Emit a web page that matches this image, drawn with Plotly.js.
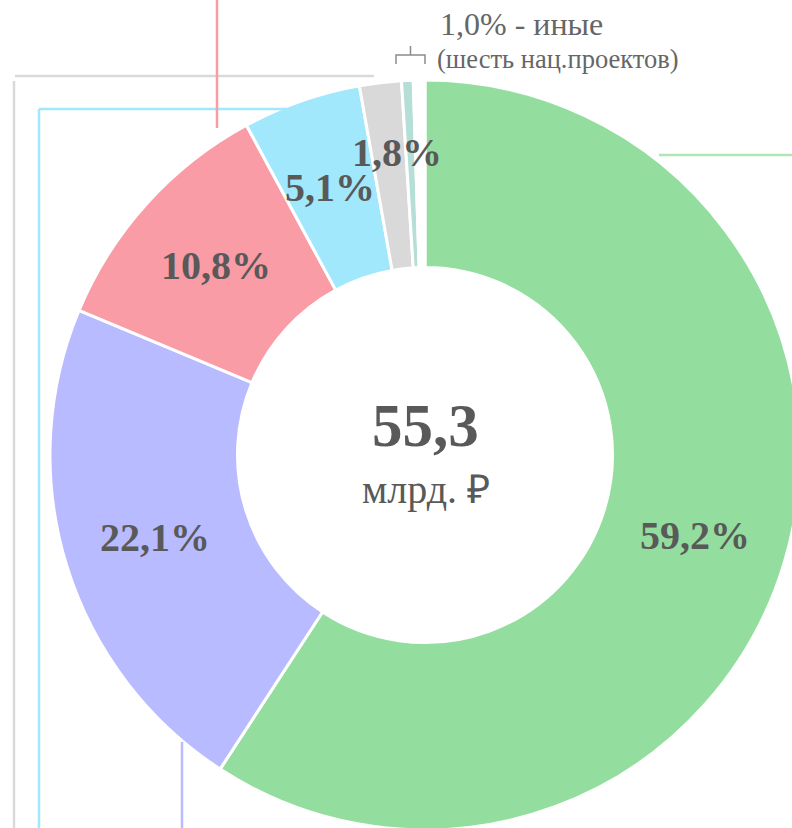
<!DOCTYPE html>
<html>
<head>
<meta charset="utf-8">
<script src="https://cdn.plot.ly/plotly-3.0.1.min.js"></script>
<style>
  html, body { margin: 0; padding: 0; overflow: hidden; background: #fff; }
  #plot { width: 850px; height: 910px; }
</style>
</head>
<body>
<div id="plot"></div>
<script>
// shares of the total, %
var mainShares = [59.2, 22.1, 10.8, 5.1, 1.8];
var mainColors = ['#93de9f', '#b8bbff', '#fa9ca6', '#a2e8fc', '#d9d9d9'];
// "иные" - six national projects, 1,0% together
var otherShares = [0.5, 0.1, 0.1, 0.1, 0.1, 0.1];
var otherColor = '#b5ded6';
var total = '55,3';
var unit = 'млрд. ₽';
var otherTitle = '1,0% - иные';
var otherNote = '(шесть нац.проектов)';

var W = 850, H = 910;
var cx = 425, cy = 455, R = 375;
var fontName = 'Liberation Serif';

function px(x) { return x / W; }
function py(y) { return 1 - y / H; }
function fmt(v) { return v.toFixed(1).replace('.', ',') + '%'; }

function makePlot() {
  var values = mainShares.concat(otherShares);
  var colors = mainColors.concat(otherShares.map(function () { return otherColor; }));

  var trace1 = {
    type: 'pie',
    values: values,
    labels: values.map(function (v, i) { return 'p' + i; }),
    sort: false,
    direction: 'clockwise',
    rotation: 0,
    hole: 0.5,
    textinfo: 'none',
    hoverinfo: 'none',
    showlegend: false,
    marker: {
      colors: colors,
      line: { color: '#ffffff', width: 3 }
    },
    domain: {
      x: [px(cx - R), px(cx + R)],
      y: [py(cy + R), py(cy - R)]
    }
  };

  // slice labels placed at the middle angle of each slice
  var nudge = [[0, 0], [0, 0], [0, 0], [-2, -1], [6, -23]];
  var annotations = [];
  var sum = 0;
  var all = 0;
  values.forEach(function (v) { all += v; });
  mainShares.forEach(function (v, i) {
    var mid = (sum + v / 2) / all * 2 * Math.PI;
    sum += v;
    var r = R * 0.752;
    var x = cx + r * Math.sin(mid) + nudge[i][0];
    var y = cy - r * Math.cos(mid) + nudge[i][1];
    annotations.push({
      xref: 'paper', yref: 'paper',
      x: px(x), y: py(y),
      text: '<b>' + fmt(v) + '</b>',
      showarrow: false,
      xanchor: 'center', yanchor: 'middle',
      font: { family: fontName, size: 40, color: '#595959' }
    });
  });

  annotations.push({
    xref: 'paper', yref: 'paper', x: px(cx), y: py(425),
    text: '<b>' + total + '</b>', showarrow: false,
    xanchor: 'center', yanchor: 'middle',
    font: { family: fontName, size: 61, color: '#595959' }
  });
  annotations.push({
    xref: 'paper', yref: 'paper', x: px(cx + 1), y: py(489),
    text: unit, showarrow: false,
    xanchor: 'center', yanchor: 'middle',
    font: { family: fontName, size: 40, color: '#595959' }
  });
  annotations.push({
    xref: 'paper', yref: 'paper', x: px(438), y: py(24),
    text: otherTitle, showarrow: false,
    xanchor: 'left', yanchor: 'middle',
    font: { family: fontName, size: 32, color: '#666666' }
  });
  annotations.push({
    xref: 'paper', yref: 'paper', x: px(435), y: py(59),
    text: otherNote, showarrow: false,
    xanchor: 'left', yanchor: 'middle',
    font: { family: fontName, size: 26.5, color: '#666666' }
  });

  function seg(x0, y0, x1, y1, color) {
    return {
      type: 'line', xref: 'paper', yref: 'paper',
      x0: px(x0), y0: py(y0), x1: px(x1), y1: py(y1),
      line: { color: color, width: 2.5 }
    };
  }

  var bracket = 'M' + px(396) + ',' + py(64) + ' L' + px(396) + ',' + py(55) +
    ' L' + px(425) + ',' + py(55) + ' L' + px(425) + ',' + py(64) +
    ' M' + px(410.5) + ',' + py(55) + ' L' + px(410.5) + ',' + py(46);

  var shapes = [
    seg(374, 76, 15, 76, '#d9d9d9'),
    seg(14, 81, 14, 900, '#d9d9d9'),
    seg(287, 109, 39, 109, '#a2e8fc'),
    seg(39, 109, 39, 900, '#a2e8fc'),
    seg(217, 0, 217, 128, '#fa9ca6'),
    seg(182, 742, 182, 900, '#b8bbff'),
    seg(659, 155, 850, 155, '#aee6b6'),
    {
      type: 'path', xref: 'paper', yref: 'paper', path: bracket,
      line: { color: '#8c8c8c', width: 1.5 }
    }
  ];

  var layout = {
    width: W,
    height: H,
    margin: { l: 0, r: 0, t: 0, b: 0 },
    paper_bgcolor: '#ffffff',
    font: { family: fontName, color: '#595959' },
    showlegend: false,
    annotations: annotations,
    shapes: shapes
  };

  Plotly.newPlot('plot', [trace1], layout, { displayModeBar: false });
}

makePlot();
</script>
</body>
</html>
